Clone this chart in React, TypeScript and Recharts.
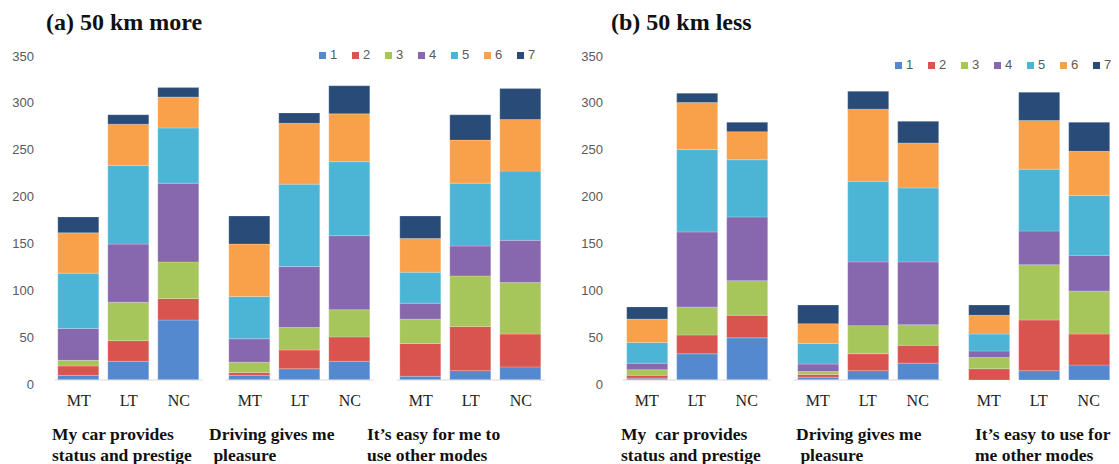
import React from "react";
import { Bar, BarChart, ReferenceLine, XAxis, YAxis } from "recharts";

// values, one array per rating, bars in order
// (group 1: MT, LT, NC; group 2: MT, LT, NC; group 3: MT, LT, NC)
const SUBGROUPS = ["MT", "LT", "NC"];
const RATINGS = ["1", "2", "3", "4", "5", "6", "7"];
const Y_TICKS = [0, 50, 100, 150, 200, 250, 300, 350];

const MORE_STATEMENTS = [
  ["My car provides", "status and prestige"],
  ["Driving gives me", " pleasure"],
  ["It’s easy for me to", "use other modes"],
];
const LESS_STATEMENTS = [
  ["My  car provides", "status and prestige"],
  ["Driving gives me", " pleasure"],
  ["It’s easy to use for", "me other modes"],
];

const MORE_R1 = [5, 20, 64, 5, 12, 20, 4, 10, 14];
const MORE_R2 = [10, 22, 23, 3, 20, 26, 35, 47, 35];
const MORE_R3 = [6, 41, 39, 11, 24, 29, 26, 54, 55];
const MORE_R4 = [34, 62, 84, 25, 65, 79, 17, 32, 45];
const MORE_R5 = [59, 84, 59, 45, 88, 79, 33, 67, 74];
const MORE_R6 = [43, 44, 33, 56, 65, 51, 36, 46, 55];
const MORE_R7 = [17, 10, 10, 30, 11, 30, 24, 27, 33];

const LESS_R1 = [2, 28, 45, 3, 10, 18, 0, 10, 16];
const LESS_R2 = [3, 20, 24, 3, 18, 19, 12, 54, 33];
const LESS_R3 = [6, 30, 37, 3, 30, 22, 12, 59, 46];
const LESS_R4 = [7, 80, 68, 8, 68, 67, 7, 36, 38];
const LESS_R5 = [22, 88, 61, 22, 86, 79, 18, 66, 64];
const LESS_R6 = [25, 50, 30, 21, 77, 48, 20, 52, 47];
const LESS_R7 = [13, 10, 10, 20, 19, 23, 11, 30, 31];

const COLORS = ["#5489cf", "#d9534f", "#a6c65b", "#8767ae", "#4cb5d6", "#f9a04b", "#284b77"];

const GROUP_PITCH = 3.42;
const SANS = "'Liberation Sans', Arial, sans-serif";
const SERIF = "'Liberation Serif', 'Times New Roman', serif";

interface PanelLayout {
  left: number;
  width: number;
  xMin: number;
  yLabelRight: number;
  titleX: number;
  legendX: number;
  legendY: number;
  groupLabelX: number[];
}

interface PanelProps {
  title: string;
  series: number[][];
  statements: string[][];
  layout: PanelLayout;
}

function Panel({ title, series, statements, layout }: PanelProps) {
  const data = series[0].map((_, i) => {
    const row: Record<string, number> = {
      pos: Math.floor(i / 3) * GROUP_PITCH + (i % 3),
    };
    RATINGS.forEach((r, k) => {
      row["r" + r] = series[k][i];
    });
    return row;
  });
  const positions = data.map((d) => d.pos);

  const renderXTick = (props: any) => {
    const { x, y, index } = props;
    const g = Math.floor(index / 3);
    return (
      <g>
        <text
          x={x}
          y={y + 26}
          textAnchor="middle"
          fontFamily={SERIF}
          fontSize={16}
          fill="#222"
        >
          {SUBGROUPS[index % 3]}
        </text>
        {index % 3 === 0 &&
          statements[g].map((line, j) => (
            <text
              key={j}
              x={layout.groupLabelX[g] - layout.left}
              y={y + 60 + j * 21}
              fontFamily={SERIF}
              fontWeight="bold"
              fontSize={17.5}
              fill="#111"
              style={{ whiteSpace: "pre" }}
            >
              {line}
            </text>
          ))}
      </g>
    );
  };

  const renderYTick = (props: any) => {
    const { y, payload } = props;
    return (
      <text
        x={layout.yLabelRight}
        y={y + 4}
        dy="0.35em"
        textAnchor="end"
        fontFamily={SANS}
        fontSize={13}
        fill="#595959"
      >
        {payload.value}
      </text>
    );
  };

  return (
    <div style={{ position: "absolute", left: layout.left, top: 0, width: layout.width, height: 464 }}>
      <div
        style={{
          position: "absolute",
          left: layout.titleX - layout.left,
          top: 7,
          fontFamily: SERIF,
          fontWeight: "bold",
          fontSize: 24,
          lineHeight: "30px",
          color: "#111",
          whiteSpace: "nowrap",
          zIndex: 2,
        }}
      >
        {title}
      </div>
      <div
        style={{
          position: "absolute",
          left: layout.legendX - layout.left,
          top: layout.legendY - 7,
          height: 14,
          width: 240,
          zIndex: 2,
        }}
      >
        {RATINGS.map((r, k) => (
          <div
            key={r}
            style={{
              position: "absolute",
              left: k * 33,
              top: 0,
              display: "flex",
              alignItems: "center",
              fontFamily: SANS,
              fontSize: 13,
              color: "#595959",
              lineHeight: "14px",
            }}
          >
            <span
              style={{
                display: "inline-block",
                width: 7,
                height: 7,
                background: COLORS[k],
                marginRight: 4,
              }}
            />
            {r}
          </div>
        ))}
      </div>
      <BarChart
        width={layout.width}
        height={464}
        data={data}
        barSize={41}
        margin={{ top: 52, right: layout.width - 550, left: 0, bottom: 0 }}
      >
        <XAxis
          dataKey="pos"
          type="number"
          domain={[layout.xMin, layout.xMin + 10]}
          ticks={positions}
          interval={0}
          allowDataOverflow
          axisLine={false}
          tickLine={false}
          tickSize={0}
          tickMargin={0}
          height={84}
          tick={renderXTick}
        />
        <YAxis
          type="number"
          domain={[0, 350]}
          ticks={Y_TICKS}
          interval={0}
          width={50}
          axisLine={false}
          tickLine={false}
          tick={renderYTick}
        />
        {[0, 1, 2].map((g) => (
          <ReferenceLine
            key={g}
            segment={[
              { x: g * GROUP_PITCH - 0.48, y: 0 },
              { x: g * GROUP_PITCH + 2.48, y: 0 },
            ]}
            stroke="#d9d9d9"
            strokeWidth={1}
          />
        ))}
        {RATINGS.map((r, k) => (
          <Bar
            key={r}
            dataKey={"r" + r}
            name={r}
            stackId="s"
            fill={COLORS[k]}
            stroke="#ffffff"
            strokeOpacity={0.35}
            strokeWidth={0.6}
            isAnimationActive={false}
          />
        ))}
      </BarChart>
    </div>
  );
}

export default function App() {
  return (
    <div
      style={{
        position: "absolute",
        left: 0,
        top: 0,
        width: 1119,
        height: 464,
        background: "#ffffff",
        overflow: "hidden",
      }}
    >
      <Panel
        title="(a) 50 km more"
        series={[MORE_R1, MORE_R2, MORE_R3, MORE_R4, MORE_R5, MORE_R6, MORE_R7]}
        statements={MORE_STATEMENTS}
        layout={{
          left: 0,
          width: 560,
          xMin: -0.576,
          yLabelRight: 34,
          titleX: 46,
          legendX: 319,
          legendY: 55,
          groupLabelX: [52, 209, 367],
        }}
      />
      <Panel
        title="(b) 50 km less"
        series={[LESS_R1, LESS_R2, LESS_R3, LESS_R4, LESS_R5, LESS_R6, LESS_R7]}
        statements={LESS_STATEMENTS}
        layout={{
          left: 560,
          width: 559,
          xMin: -0.734,
          yLabelRight: 43,
          titleX: 611,
          legendX: 895,
          legendY: 65,
          groupLabelX: [621, 796, 975],
        }}
      />
    </div>
  );
}
